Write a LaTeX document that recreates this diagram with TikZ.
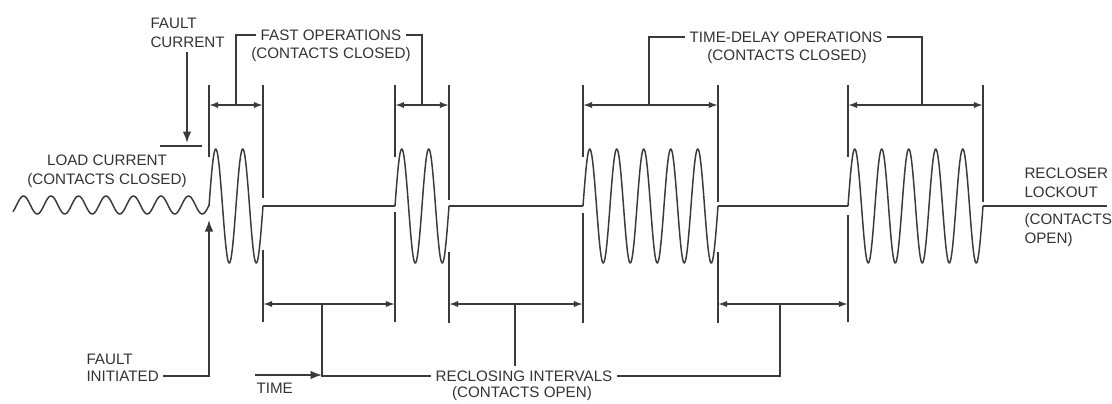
\documentclass[tikz,border=0pt]{standalone}
\usepackage{fontspec}
\setmainfont{Liberation Sans}
\usetikzlibrary{arrows.meta,calc}
\definecolor{inkgray}{HTML}{3A3A3A}
\definecolor{textgray}{HTML}{333333}
\tikzset{
  >={Latex[length=6.5pt,width=4.5pt]},
  line/.style={draw=inkgray, line width=1.15pt},
  arrowline/.style={draw=inkgray, -Latex, line width=1.15pt},
  dim/.style={draw=inkgray, <->, line width=1.15pt},
  wave/.style={draw=inkgray, line width=1.05pt, line join=round},
  lbl/.style={
    font=\fontsize{10.8}{13.5}\selectfont,
    text=textgray,
    inner sep=3pt
  }
}
\begin{document}
\begin{tikzpicture}[x=0.025cm,y=-0.025cm]
  \path[use as bounding box] (0,0) rectangle (1112,403);

  % burst edges on the base line
  \coordinate (b1s) at (209,206);
  \coordinate (b1e) at (263,206);
  \coordinate (b2s) at (395,206);
  \coordinate (b2e) at (449,206);
  \coordinate (b3s) at (583,206);
  \coordinate (b3e) at (718,206);
  \coordinate (b4s) at (848,206);
  \coordinate (b4e) at (983,206);
  \coordinate (lockend) at (1107,206);

  % leader feet on the dimension arrows
  \coordinate (fd1) at (236,105);
  \coordinate (fd2) at (422,105);
  \coordinate (td1) at (649,105);
  \coordinate (td2) at (922,105);
  \coordinate (rd1) at (322,304);
  \coordinate (rd2) at (515,304);
  \coordinate (rd3) at (780,304);
  \coordinate (fctip) at (187,143);
  \coordinate (fitip) at (209,220);
  \coordinate (tstart) at (255,375);

  % waveform
  \draw[wave] plot[domain=13:209, samples=160] (\x,{205+9*cos((\x-202.25)/27.5*360)});
  \draw[wave] plot[domain=0:54, samples=120] ({209+\x},{206-57*sin(\x/27*360)});
  \draw[wave] plot[domain=0:54, samples=120] ({395+\x},{206-57*sin(\x/27*360)});
  \draw[wave] plot[domain=0:135, samples=260] ({583+\x},{206-57*sin(\x/27*360)});
  \draw[wave] plot[domain=0:135, samples=260] ({848+\x},{206-57*sin(\x/27*360)});
  \draw[wave] (b1e) -- (b2s);
  \draw[wave] (b2e) -- (b3s);
  \draw[wave, line width=1.5pt] (b3e) -- (b4s);
  \draw[wave] (b4e) -- (lockend);

  % extension lines, top
  \draw[line] (209,85) -- (209,157);
  \draw[line] (263,85) -- (263,198);
  \draw[line] (395,85) -- (395,157);
  \draw[line] (449,85) -- (449,200);
  \draw[line] (583,85) -- (583,157);
  \draw[line] (718,85) -- (718,202);
  \draw[line] (848,85) -- (848,157);
  \draw[line] (983,85) -- (983,202);

  % extension lines, bottom
  \draw[line] (263,250) -- (263,322);
  \draw[line] (395,212) -- (395,322);
  \draw[line] (449,252) -- (449,323);
  \draw[line] (583,213) -- (583,323);
  \draw[line] (718,252) -- (718,323);
  \draw[line] (848,215) -- (848,322);

  \node[lbl, align=left, anchor=west] (faultcur) at (146,33) {FAULT\\CURRENT};
  \node[lbl, align=center] (loadcur) at (107,171) {LOAD CURRENT\\(CONTACTS CLOSED)};
  \node[lbl] (fastA) at (331,35) {FAST OPERATIONS};
  \node[lbl] (fastB) at (331,55) {(CONTACTS CLOSED)};
  \node[lbl] (tdA) at (786,37) {TIME-DELAY OPERATIONS};
  \node[lbl] (tdB) at (787,57) {(CONTACTS CLOSED)};
  \node[lbl, align=left, anchor=west] (lockA) at (1020,183) {RECLOSER\\LOCKOUT};
  \node[lbl, align=left, anchor=west] (lockB) at (1020,230) {(CONTACTS\\OPEN)};
  \node[lbl, anchor=west] (fiA) at (82,359) {FAULT};
  \node[lbl, anchor=west] (fiB) at (82,376) {INITIATED};
  \node[lbl, anchor=west] (timelbl) at (252,388) {TIME};
  \node[lbl] (reclA) at (524,376) {RECLOSING INTERVALS};
  \node[lbl] (reclB) at (522,394) {(CONTACTS OPEN)};

  % dimension arrows
  \draw[dim] (b1s |- fd1) -- (b1e |- fd1);
  \draw[dim] (b2s |- fd2) -- (b2e |- fd2);
  \draw[dim] (b3s |- td1) -- (b3e |- td1);
  \draw[dim] (b4s |- td2) -- (b4e |- td2);
  \draw[dim] (b1e |- rd1) -- (b2s |- rd1);
  \draw[dim] (b2e |- rd2) -- (b3s |- rd2);
  \draw[dim] (b3e |- rd3) -- (b4s |- rd3);

  % leaders
  \draw[line] (fastA.west) -| (fd1);
  \draw[line] (fastA.east) -| (fd2);
  \draw[line] (tdA.west) -| (td1);
  \draw[line] (tdA.east) -| (td2);
  \draw[line] (rd1) |- (reclA.west);
  \draw[line] (rd2) -- (rd2 |- reclA.north);
  \draw[line] (reclA.east) -| (rd3);
  \draw[arrowline] (tstart) -- (rd1 |- tstart);
  \draw[arrowline] (fiB.east) -| (fitip);
  \draw[arrowline] (faultcur.south -| fctip) -- (fctip);
  \draw[line] (160,146) -- (202,146);
\end{tikzpicture}
\end{document}
